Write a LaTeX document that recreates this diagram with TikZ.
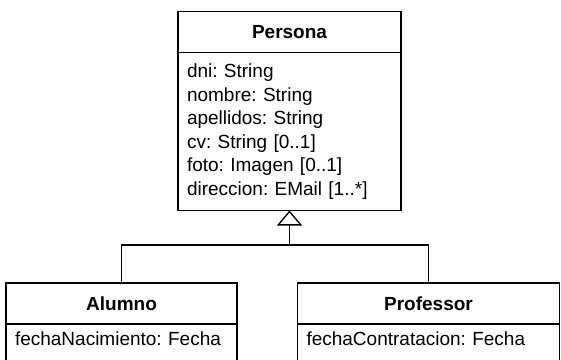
\documentclass[tikz,border=0pt]{standalone}
\usepackage{fontspec}
\setmainfont{Liberation Sans}
\frenchspacing
\usetikzlibrary{arrows.meta, positioning}
\tikzset{
  classhead/.style={
    rectangle,
    draw,
    line width=1.3pt,
    outer sep=0pt,
    align=center,
    minimum height=41,
    font=\fontsize{19}{21}\selectfont\bfseries
  },
  classbody/.style={
    rectangle,
    draw,
    line width=1.3pt,
    outer sep=0pt,
    align=left,
    inner xsep=9,
    inner ysep=4,
    font=\fontsize{19}{23.6}\selectfont
  },
  inherit/.style={-{Triangle[open, length=15, width=25]}, line width=1.3pt},
  link/.style={line width=1.3pt}
}
\begin{document}
\begin{tikzpicture}[x=1pt,y=-1pt]
\useasboundingbox (0,0) rectangle (561,359);
\clip (0,0) rectangle (561,359);
% superclass
\node[classhead, minimum width=223] (persona) at (289.5,32) {Persona};
\node[classbody, text width=205, minimum height=158, below=0pt of persona] (personaattr) {dni: String\\nombre: String\\apellidos: String\\cv: String [0..1]\\foto: Imagen [0..1]\\direccion: EMail [1..*]};
% subclasses
\node[classhead, minimum width=231] (alumno) at (121.5,303.5) {Alumno};
\node[classbody, text width=213, minimum height=50, anchor=north, text depth=20] (alumnoattr) at (alumno.south) {fechaNacimiento: Fecha};
\node[classhead, minimum width=262] (profesor) at (428.5,303.5) {Professor};
\node[classbody, text width=244, minimum height=50, anchor=north, text depth=20] (profesorattr) at (profesor.south) {fechaContratacion: Fecha};

\coordinate (joint) at (289.5,245);
\draw[link] (alumno.north) |- (joint) -| (profesor.north);
\draw[inherit] (joint) -- (personaattr.south);
\end{tikzpicture}
\end{document}
